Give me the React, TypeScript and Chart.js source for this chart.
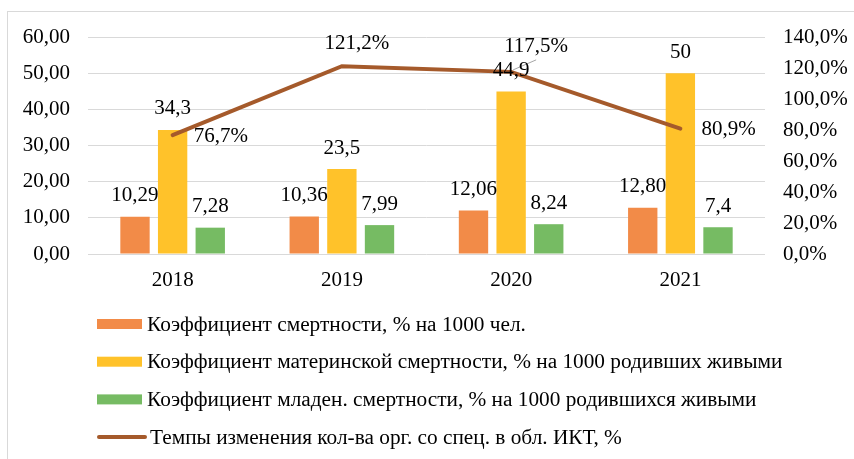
import React, { useEffect, useRef } from "react";
import { Chart, registerables } from "chart.js";

Chart.register(...registerables);

const categories = ["2018", "2019", "2020", "2021"];
const mortality = [10.29, 10.36, 12.06, 12.8];
const maternal = [34.3, 23.5, 44.9, 50];
const infant = [7.28, 7.99, 8.24, 7.4];
const ictChange = [76.7, 121.2, 117.5, 80.9];

const leftTicks = [0, 10, 20, 30, 40, 50, 60];
const rightTicks = [0, 20, 40, 60, 80, 100, 120, 140];

const seriesNames = [
  "Коэффициент смертности, % на 1000 чел.",
  "Коэффициент материнской смертности, % на 1000 родивших живыми",
  "Коэффициент младен. смертности, % на 1000 родившихся живыми",
  "Темпы изменения кол-ва орг. со спец. в обл. ИКТ, %",
];

const FONT = "'Liberation Serif', 'Times New Roman', serif";
const FONT_SIZE = 21;
const LEGEND_FONT_SIZE = 21.3;
const TEXT = "#000000";
const GRID = "#D9D9D9";
const C_ORANGE = "#F28B48";
const C_YELLOW = "#FFC22A";
const C_GREEN = "#76BB63";
const C_LINE = "#A55A2B";

const comma = (s: string) => s.replace(".", ",");

const frame = {
  id: "frame",
  beforeDraw(chart: any) {
    const ctx = chart.ctx;
    ctx.save();
    ctx.fillStyle = "#ffffff";
    ctx.fillRect(0, 0, chart.width, chart.height);
    ctx.strokeStyle = GRID;
    ctx.lineWidth = 1;
    ctx.strokeRect(7.5, 11.5, chart.width + 20, chart.height + 20);
    ctx.restore();
  },
};

const dataLabels = {
  id: "dataLabels",
  afterDatasetsDraw(chart: any) {
    const ctx = chart.ctx;
    ctx.save();
    ctx.font = `${FONT_SIZE}px ${FONT}`;
    ctx.fillStyle = TEXT;
    chart.data.datasets.forEach((ds: any, di: number) => {
      const meta = chart.getDatasetMeta(di);
      meta.data.forEach((el: any, i: number) => {
        const v = ds.data[i];
        if (ds.type === "line") {
          const txt = comma(v.toFixed(1)) + "%";
          const x = el.x;
          const y = el.y;
          if (i === 0 || i === 3) {
            ctx.textAlign = "left";
            ctx.textBaseline = "middle";
            ctx.fillText(txt, x + 21, y + 1);
          } else if (i === 1) {
            ctx.textAlign = "center";
            ctx.textBaseline = "middle";
            ctx.fillText(txt, x + 15, y - 23);
          } else {
            ctx.strokeStyle = "#A6A6A6";
            ctx.lineWidth = 1;
            ctx.beginPath();
            ctx.moveTo(x + 2, y - 2);
            ctx.lineTo(x + 25, y - 12);
            ctx.stroke();
            ctx.textAlign = "center";
            ctx.textBaseline = "middle";
            ctx.fillText(txt, x + 25, y - 25);
          }
        } else {
          const txt = di === 1 ? comma(v.toFixed(2)) : comma(String(v));
          ctx.textAlign = "center";
          ctx.textBaseline = "middle";
          ctx.fillText(txt, el.x, el.y - 21);
        }
      });
    });
    ctx.restore();
  },
};

const customLegend = {
  id: "customLegend",
  afterDraw(chart: any) {
    const ctx = chart.ctx;
    const area = chart.chartArea;
    const x0 = area.left + 9;
    const y0 = area.bottom + 70;
    const pitch = 37.7;
    ctx.save();
    ctx.font = `${LEGEND_FONT_SIZE}px ${FONT}`;
    ctx.fillStyle = TEXT;
    const order = [1, 2, 3, 0];
    order.forEach((di, row) => {
      const ds = chart.data.datasets[di];
      const y = y0 + row * pitch;
      let tx = x0 + 50;
      if (ds.type === "line") {
        ctx.strokeStyle = ds.borderColor;
        ctx.lineWidth = 4;
        ctx.lineCap = "round";
        ctx.beginPath();
        ctx.moveTo(x0 + 2, y);
        ctx.lineTo(x0 + 48, y);
        ctx.stroke();
        tx = x0 + 53;
      } else {
        ctx.fillStyle = ds.backgroundColor;
        ctx.fillRect(x0, y - 5, 45, 10);
      }
      ctx.fillStyle = TEXT;
      ctx.textAlign = "left";
      ctx.textBaseline = "middle";
      ctx.fillText(ds.label, tx, y + 1);
    });
    ctx.restore();
  },
};

export default function App() {
  const ref = useRef<HTMLCanvasElement>(null);
  useEffect(() => {
    if (!ref.current) return;
    const chart = new Chart(ref.current, {
      type: "bar",
      data: {
        labels: categories,
        datasets: [
          {
            type: "line",
            label: seriesNames[3],
            data: ictChange,
            yAxisID: "y1",
            borderColor: C_LINE,
            backgroundColor: C_LINE,
            borderWidth: 4,
            pointRadius: 0,
            borderCapStyle: "round",
            borderJoinStyle: "miter",
            order: 0,
          } as any,
          {
            type: "bar",
            label: seriesNames[0],
            data: mortality,
            yAxisID: "y",
            backgroundColor: C_ORANGE,
            order: 1,
          },
          {
            type: "bar",
            label: seriesNames[1],
            data: maternal,
            yAxisID: "y",
            backgroundColor: C_YELLOW,
            order: 1,
          },
          {
            type: "bar",
            label: seriesNames[2],
            data: infant,
            yAxisID: "y",
            backgroundColor: C_GREEN,
            order: 1,
          },
        ],
      },
      options: {
        responsive: false,
        animation: false,
        layout: { padding: { top: 37, left: 0, right: 0, bottom: 0 } },
        datasets: {
          bar: { categoryPercentage: 0.667, barPercentage: 0.78 },
        },
        plugins: {
          legend: { display: false },
          tooltip: { enabled: false },
        },
        scales: {
          x: {
            grid: { display: false, drawTicks: false },
            border: { display: false },
            ticks: {
              color: TEXT,
              font: { family: FONT, size: FONT_SIZE },
              padding: 14,
            },
            afterFit: (s: any) => {
              s.height = 205;
            },
          },
          y: {
            position: "left",
            min: 0,
            max: 60,
            grid: { color: GRID, lineWidth: 1, drawTicks: false },
            border: { display: false },
            afterBuildTicks: (s: any) => {
              s.ticks = leftTicks.map((v) => ({ value: v }));
            },
            ticks: {
              color: TEXT,
              font: { family: FONT, size: FONT_SIZE },
              padding: 18,
              callback: (v: any) => comma(Number(v).toFixed(2)),
            },
            afterFit: (s: any) => {
              s.width = 88;
            },
          },
          y1: {
            position: "right",
            min: 0,
            max: 140,
            grid: { display: false, drawTicks: false },
            border: { display: false },
            afterBuildTicks: (s: any) => {
              s.ticks = rightTicks.map((v) => ({ value: v }));
            },
            ticks: {
              color: TEXT,
              font: { family: FONT, size: FONT_SIZE },
              padding: 18,
              callback: (v: any) => comma(Number(v).toFixed(1)) + "%",
            },
            afterFit: (s: any) => {
              s.width = 89;
            },
          },
        },
      } as any,
      plugins: [frame, dataLabels, customLegend],
    });
    return () => chart.destroy();
  }, []);
  return (
    <div style={{ position: "absolute", left: 0, top: 0 }}>
      <canvas ref={ref} width={854} height={459} />
    </div>
  );
}
